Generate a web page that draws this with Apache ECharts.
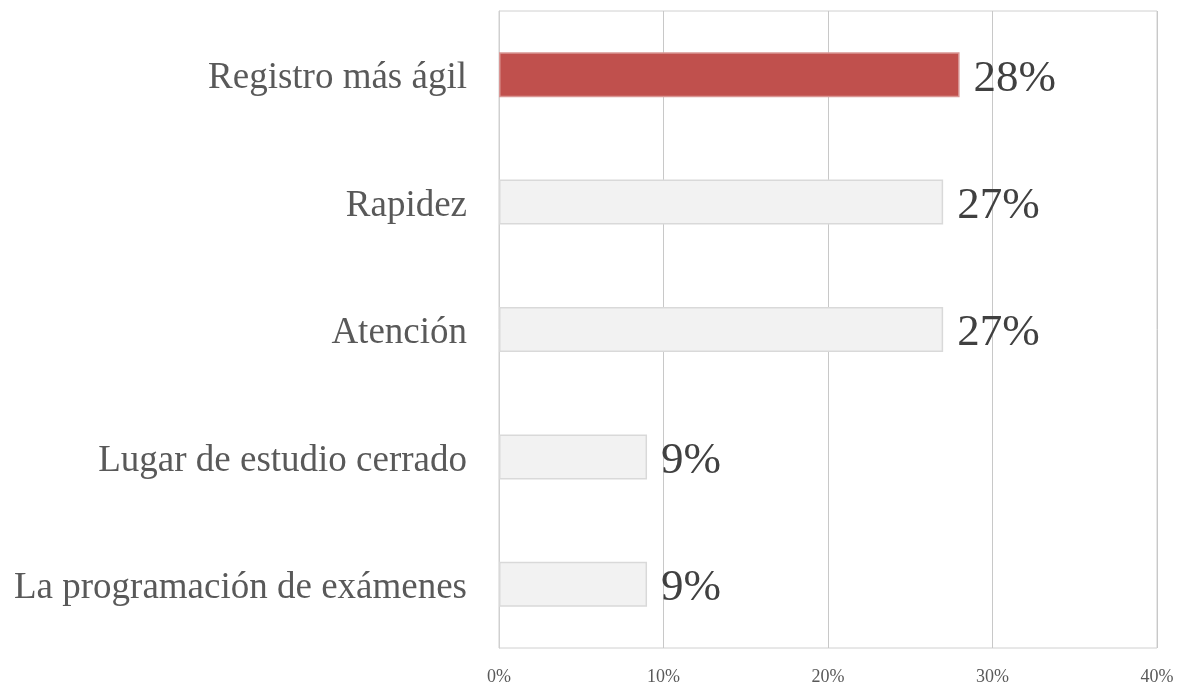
<!DOCTYPE html>
<html>
<head>
<meta charset="utf-8">
<script src="https://cdn.jsdelivr.net/npm/echarts@6/dist/echarts.min.js"></script>
<style>
  html, body { margin: 0; padding: 0; background: #fff; }
  #chart { width: 1180px; height: 683px; }
</style>
</head>
<body>
<div id="chart"></div>
<script>
// data, top to bottom as in the picture
var categories = ['Registro más ágil', 'Rapidez', 'Atención', 'Lugar de estudio cerrado', 'La programación de exámenes'];
var values = [28, 27, 27, 9, 9];
var highlight = 0; // index of the red bar

var myChart = echarts.init(document.getElementById('chart'));

var seriesData = values.map(function (v, i) {
	var item = { value: v };
	if (i === highlight) {
		item.itemStyle = { color: '#C0504D', borderColor: '#D99694' };
	}
	return item;
});

var option = {
	animation: false,
	textStyle: { fontFamily: 'Liberation Serif' },
	grid: {
		left: 499, right: 23, top: 11, bottom: 35,
		outerBoundsMode: 'none',
		show: true, borderColor: '#D0D0D0', borderWidth: 1
	},
	xAxis: {
		type: 'value',
		min: 0, max: 40, interval: 10,
		axisLine: { show: false },
		axisTick: { show: false },
		splitLine: { lineStyle: { color: '#C8C8C8', width: 1 } },
		axisLabel: {
			formatter: '{value}%',
			color: '#595959', fontSize: 18, margin: 20,
			fontFamily: 'Liberation Serif'
		}
	},
	yAxis: {
		type: 'category',
		data: categories,
		inverse: true,
		axisLine: { show: true, lineStyle: { color: '#D0D0D0' } },
		axisTick: { show: false },
		axisLabel: {
			color: '#595959', fontSize: 37, margin: 32,
			fontFamily: 'Liberation Serif',
			formatter: function (v) { return '{c|' + v + '}'; },
			rich: {
				c: {
					color: '#595959', fontSize: 37,
					fontFamily: 'Liberation Serif',
					padding: [8, 0, 0, 0]
				}
			}
		}
	},
	series: [{
		type: 'bar',
		data: seriesData,
		barWidth: 45,
		itemStyle: { color: '#F2F2F2', borderColor: '#D9D9D9', borderWidth: 1.5 },
		label: {
			show: true,
			position: 'right',
			distance: 14,
			offset: [0, 4],
			formatter: '{c}%',
			color: '#404040',
			fontSize: 45,
			fontFamily: 'Liberation Serif'
		}
	}]
};

myChart.setOption(option);
</script>
</body>
</html>
